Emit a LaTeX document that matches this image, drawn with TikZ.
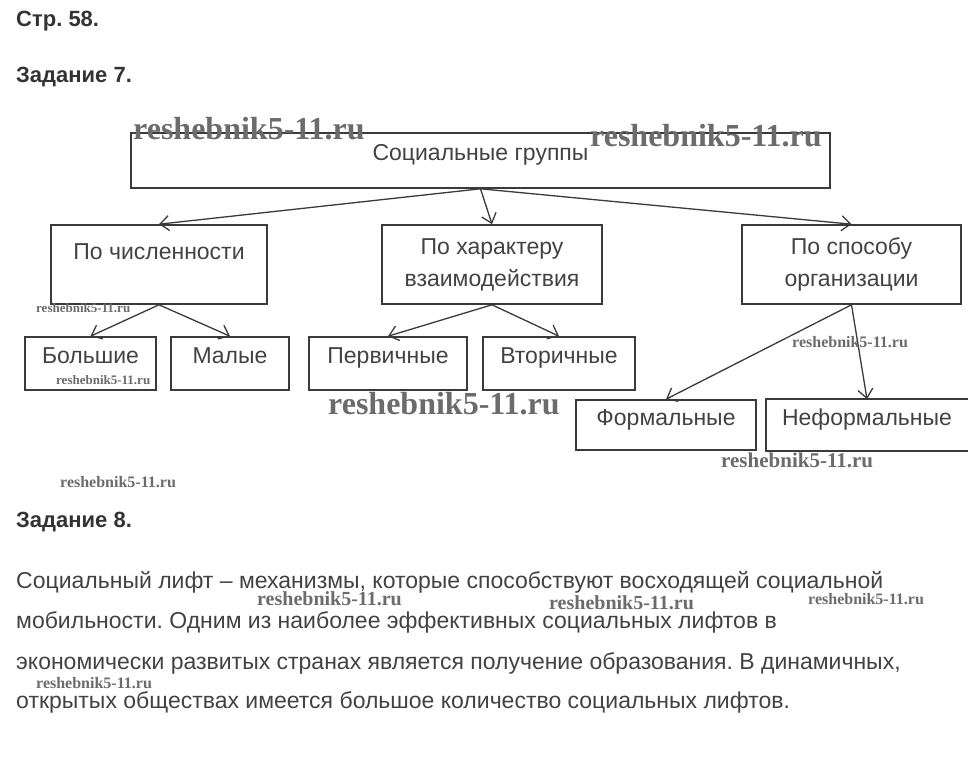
\documentclass[tikz,border=0pt]{standalone}
\usepackage{fontspec}
\setmainfont{Liberation Sans}
\newfontfamily\wmfont{Liberation Serif}
\usetikzlibrary{arrows.meta}
\frenchspacing
\definecolor{linegray}{HTML}{3A3A3A}
\definecolor{textgray}{HTML}{424242}
\definecolor{headgray}{HTML}{333333}
\tikzset{
    grp/.style={draw=linegray, line width=1.6pt, inner sep=0pt, text=textgray, font=\fontsize{23}{32}\selectfont},
    one/.style={text height=0pt, text depth=0pt},
    two/.style={align=center},
    arr/.style={draw=linegray, line width=1.3pt, -{Straight Barb[length=9pt,width=15pt]}},
    head/.style={anchor=base west, inner sep=0pt, text=headgray, font=\fontsize{22}{26}\selectfont\bfseries},
    para/.style={anchor=base west, inner sep=0pt, text=textgray, font=\fontsize{23}{26}\selectfont},
    wm/.style={anchor=base west, inner sep=0pt, text=black!58}
}

\begin{document}
\begin{tikzpicture}[x=1pt,y=-1pt]
            \useasboundingbox (0,0) rectangle (973,762);
            \node[head] (p58) at (16,27) {Стр. 58.};
            \node[head] (z7) at (16,83) {Задание 7.};

            \node[grp,one,minimum width=699pt,minimum height=55pt] (soc) at (480.5,160.5) {Социальные группы};
            \node[grp,one,minimum width=216pt,minimum height=79pt] (chis) at (159,264.5) {\raisebox{5pt}{По численности}};
            \node[grp,two,minimum width=220pt,minimum height=79pt] (har) at (492,264.5) {\raisebox{2pt}{По характеру}\\\raisebox{2pt}{взаимодействия}};
            \node[grp,two,minimum width=219pt,minimum height=79pt] (spos) at (851.5,264.5) {\raisebox{2pt}{По способу}\\\raisebox{2pt}{организации}};
            \node[grp,one,minimum width=131pt,minimum height=53pt] (bol) at (90.5,363.5) {Большие};
            \node[grp,one,minimum width=118pt,minimum height=53pt] (mal) at (230,363.5) {Малые};
            \node[grp,one,minimum width=158pt,minimum height=53pt] (perv) at (388,363.5) {Первичные};
            \node[grp,one,minimum width=152pt,minimum height=53pt] (vtor) at (559,363.5) {Вторичные};
            \node[grp,one,minimum width=180pt,minimum height=50pt] (form) at (666,425) {Формальные};
            \node[grp,one,draw=none,minimum width=200pt,minimum height=50pt] (neform) at (867,425) {Неформальные};
            \draw[linegray,line width=1.6pt] (neform.north east) -- (neform.north west) -- (neform.south west) -- (neform.south east);

            \draw[arr] (soc.south) -- (chis.north);
            \draw[arr] (soc.south) -- (har.north);
            \draw[arr] (soc.south) -- (spos.north);
            \draw[arr] (chis.south) -- (bol.north);
            \draw[arr] (chis.south) -- (mal.north);
            \draw[arr] (har.south) -- (perv.north);
            \draw[arr] (har.south) -- (vtor.north);
            \draw[arr] (spos.south) -- (form.north);
            \draw[arr] (spos.south) -- (neform.north);

            \node[head] (z8) at (16,527) {Задание 8.};
            \node[para] (l1) at (16,588) {Социальный лифт – механизмы, которые способствуют восходящей социальной};
            \node[para] (l2) at (16,628) {мобильности. Одним из наиболее эффективных социальных лифтов в};
            \node[para] (l3) at (16,669) {экономически развитых странах является получение образования. В динамичных,};
            \node[para] (l4) at (16,708) {открытых обществах имеется большое количество социальных лифтов.};

            \foreach \x/\y/\s [count=\i] in {133/140/32, 590/147/32, 328/414/32, 36/312/13, 56/384/13, 792/347/16, 721/467/21, 60/487/16, 257/605/20, 549/609/20, 808/604/16, 36/688/16}
                \node[wm,font=\wmfont\bfseries\fontsize{\s}{\s}\selectfont] (wm\i) at (\x,\y) {reshebnik5-11.ru};
\end{tikzpicture}
\end{document}
